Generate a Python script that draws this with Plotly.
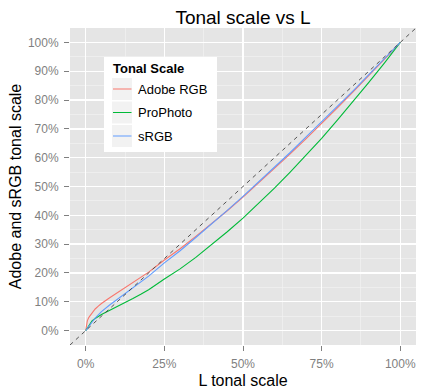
import plotly.graph_objects as go

# ---- data (percent) ----
L_PCT = [0, 0.25, 0.5, 1, 2, 3, 4, 5, 7.5, 10, 12.5, 15, 17.5, 20, 25, 30, 35, 40,
         45, 50, 55, 60, 65, 70, 75, 80, 85, 90, 95, 100]
ADOBE_RGB = [0, 2.5, 3.4, 4.6, 6.2, 7.5, 8.5, 9.4, 11.3, 13.1, 15.1, 16.8, 18.4, 20.3,
             24.5, 28.4, 32.7, 37.0, 41.6, 46.3, 51.2, 56.2, 61.3, 66.5, 71.8, 77.3,
             82.8, 88.4, 94.2, 100]
PROPHOTO = [0, 0.4, 0.9, 1.8, 3.4, 4.2, 4.9, 5.6, 7.0, 8.3, 9.6, 11.1, 12.6, 14.2,
            17.9, 21.4, 25.4, 29.7, 34.3, 39.0, 44.1, 49.4, 55.0, 60.7, 66.7, 73.0,
            79.4, 86.1, 92.9, 100]
SRGB = [0, 0.4, 0.7, 1.4, 2.9, 4.3, 5.5, 6.6, 8.8, 10.8, 12.9, 14.9, 16.9, 18.9,
        23.5, 27.7, 32.3, 36.9, 41.7, 46.6, 51.6, 56.7, 61.8, 67.1, 72.4, 77.8,
        83.2, 88.8, 94.4, 100]
SERIES = ["Adobe RGB", "ProPhoto", "sRGB"]
COLORS = ["#F8766D", "#00BA38", "#619CFF"]
AXIS_RANGE = [-5, 105]

FONT = "Liberation Sans, Arial, sans-serif"

# plot-area geometry (pixels)
W, H = 441, 390
ML, MR, MT, MB = 70, 25, 28, 45
PW, PH = W - ML - MR, H - MT - MB


def xp(px):
    return (px - ML) / PW


def yp(py):
    return (H - MB - py) / PH


fig = go.Figure()
for name, vals, col in zip(SERIES, [ADOBE_RGB, PROPHOTO, SRGB], COLORS):
    fig.add_trace(go.Scatter(x=L_PCT, y=vals, mode="lines", name=name,
                             line=dict(color=col, width=1.1), showlegend=False,
                             hoverinfo="skip"))

# identity reference line across the whole panel
fig.add_trace(go.Scatter(x=AXIS_RANGE, y=AXIS_RANGE, mode="lines", showlegend=False,
                         line=dict(color="#444444", width=0.9, dash="4px,4px"),
                         hoverinfo="skip"))

axis_common = dict(
    range=AXIS_RANGE, showline=False, zeroline=False, automargin=False,
    gridcolor="#FFFFFF", gridwidth=1.4,
    ticks="outside", ticklen=5, tickwidth=1, tickcolor="#7F7F7F",
    ticklabelstandoff=3,
    ticksuffix="%", tick0=0,
    tickfont=dict(family=FONT, size=12, color="#7F7F7F"),
)

fig.update_xaxes(**axis_common, dtick=25,
                 minor=dict(dtick=12.5, tick0=0, showgrid=True, gridcolor="#F2F2F2",
                            gridwidth=0.7, ticks=""),
                 title=dict(text="L tonal scale", font=dict(family=FONT, size=16, color="#000"),
                            standoff=4))
fig.update_yaxes(**axis_common, dtick=10,
                 minor=dict(dtick=5, tick0=0, showgrid=True, gridcolor="#F2F2F2",
                            gridwidth=0.7, ticks=""),
                 title=dict(text="Adobe and sRGB tonal scale",
                            font=dict(family=FONT, size=16, color="#000"), standoff=2))

# ---- legend box (ggplot style, drawn inside the panel) ----
shapes = [dict(type="rect", xref="paper", yref="paper", layer="above",
               x0=xp(104), x1=xp(217), y0=yp(152), y1=yp(57),
               fillcolor="#FFFFFF", line=dict(width=0))]
annotations = [dict(text="<b>Tonal Scale</b>", xref="paper", yref="paper",
                    x=xp(111), y=yp(68), xanchor="left", yanchor="middle",
                    showarrow=False, font=dict(family=FONT, size=13, color="#000"))]
key_tops = [78, 101.5, 125]
for name, col, top in zip(SERIES, COLORS, key_tops):
    shapes.append(dict(type="rect", xref="paper", yref="paper", layer="above",
                       x0=xp(112), x1=xp(132), y0=yp(top + 22), y1=yp(top),
                       fillcolor="#F2F2F2", line=dict(width=0)))
    cy = top + 11
    shapes.append(dict(type="line", xref="paper", yref="paper", layer="above",
                       x0=xp(113), x1=xp(131.5), y0=yp(cy), y1=yp(cy),
                       line=dict(color=col, width=1)))
    annotations.append(dict(text=name, xref="paper", yref="paper",
                            x=xp(136), y=yp(cy), xanchor="left", yanchor="middle",
                            showarrow=False, font=dict(family=FONT, size=13, color="#000")))

fig.update_layout(
    width=W, height=H,
    margin=dict(l=ML, r=MR, t=MT, b=MB, pad=0, autoexpand=False),
    paper_bgcolor="#FFFFFF", plot_bgcolor="#E5E5E5",
    font=dict(family=FONT, color="#000"),
    title=dict(text="Tonal scale vs L", x=0.5, xref="paper", xanchor="center",
               y=1 - 17 / H, yref="container", yanchor="middle",
               font=dict(family=FONT, size=19, color="#000")),
    shapes=shapes, annotations=annotations, showlegend=False,
)

fig.write_html("out.html", config={"displayModeBar": False, "staticPlot": True},
               post_script="document.body.style.margin='0';"
                           "document.body.style.overflow='hidden';")
